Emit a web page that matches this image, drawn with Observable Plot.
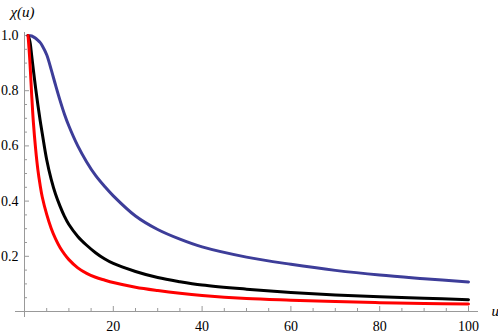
<!DOCTYPE html>
<html>
<head>
<meta charset="utf-8">
<script src="https://cdn.jsdelivr.net/npm/d3@7"></script>
<script src="https://cdn.jsdelivr.net/npm/@observablehq/plot@0.6"></script>
<style>
  html, body { margin: 0; padding: 0; background: #fff; }
  #chart { font-family: "Liberation Serif", serif; }
  #chart svg text { font-family: "Liberation Serif", serif !important; font-variant: normal !important; }
</style>
</head>
<body>
<div id="chart"></div>
<div id="after"></div>
<script>
// u values (shared grid)
const u = [0.8, 1.2, 1.6, 2, 2.5, 3, 3.5, 4, 5, 6, 7, 8, 9, 10, 12, 14, 16, 18, 20, 25, 30, 35, 40, 50, 60, 70, 80, 90, 100];
// chi(u) series
const chiBlue  = [1.0, 0.999, 0.998, 0.995, 0.99, 0.983, 0.975, 0.963, 0.93, 0.877, 0.82, 0.765, 0.715, 0.672, 0.60, 0.542, 0.493, 0.454, 0.419, 0.346, 0.297, 0.262, 0.234, 0.197, 0.171, 0.149, 0.132, 0.119, 0.107];
const chiBlack = [1.0, 0.98, 0.93, 0.875, 0.81, 0.75, 0.695, 0.645, 0.55, 0.48, 0.425, 0.382, 0.345, 0.315, 0.272, 0.24, 0.213, 0.191, 0.174, 0.145, 0.123, 0.108, 0.096, 0.081, 0.069, 0.06, 0.053, 0.048, 0.043];
const chiRed   = [1.0, 0.91, 0.79, 0.685, 0.59, 0.515, 0.46, 0.415, 0.352, 0.302, 0.263, 0.232, 0.208, 0.188, 0.158, 0.138, 0.124, 0.114, 0.105, 0.088, 0.076, 0.066, 0.058, 0.047, 0.041, 0.036, 0.032, 0.029, 0.027];

// tick values / labels
const xTicks = [20, 40, 60, 80, 100];
const xMinor = [5, 10, 15, 25, 30, 35, 45, 50, 55, 65, 70, 75, 85, 90, 95];
const yTicks = [0.2, 0.4, 0.6, 0.8, 1.0];
const yMinor = [0.05, 0.1, 0.15, 0.25, 0.3, 0.35, 0.45, 0.5, 0.55, 0.65, 0.7, 0.75, 0.85, 0.9, 0.95];
const yLabel = "χ(u)";
const xLabel = "u";

const colors = {blue: "#3d3d99", black: "#000000", red: "#ff0000"};
const toRows = (vals) => u.map((x, i) => ({u: x, chi: vals[i]}));
const blueRows = toRows(chiBlue);
const blackRows = toRows(chiBlack);
const redRows = toRows(chiRed);

const axisGray = "#999999";
const serif = "Liberation Serif";

const chart = Plot.plot({
  width: 498,
  height: 334,
  marginLeft: 24,
  marginRight: 30,
  marginTop: 35,
  marginBottom: 23,
  style: "font-family: 'Liberation Serif', serif; font-size: 14px; background: #fff; color: #000;",
  x: {domain: [0, 100]},
  y: {domain: [0, 1]},
  marks: [
    // axis lines
    Plot.ruleY([0], {stroke: axisGray, insetLeft: -9, insetRight: -10}),
    Plot.ruleX([0], {stroke: axisGray, insetTop: -3, insetBottom: -6}),
    // x ticks (pointing inward)
    Plot.axisX(xMinor, {tickSize: -3, stroke: axisGray, fill: "none", label: null}),
    Plot.axisX(xTicks, {tickSize: -5, stroke: axisGray, fill: "none", label: null}),
    Plot.axisX(xTicks, {tickSize: 0, tickPadding: 10, fill: "#000", label: null, fontFamily: serif, fontSize: 14, fontVariant: "normal", tickFormat: d3.format("d")}),
    // y ticks
    Plot.axisY(yMinor, {tickSize: -3, stroke: axisGray, fill: "none", label: null}),
    Plot.axisY(yTicks, {tickSize: -5, stroke: axisGray, fill: "none", label: null}),
    Plot.axisY(yTicks, {tickSize: 0, tickPadding: 6, fill: "#000", label: null, fontFamily: serif, fontSize: 14, fontVariant: "normal", tickFormat: d3.format(".1f")}),
    // curves
    Plot.line(blueRows, {x: "u", y: "chi", stroke: colors.blue, strokeWidth: 3, curve: "catmull-rom"}),
    Plot.line(blackRows, {x: "u", y: "chi", stroke: colors.black, strokeWidth: 3, curve: "catmull-rom"}),
    Plot.line(redRows, {x: "u", y: "chi", stroke: colors.red, strokeWidth: 3, curve: "catmull-rom"}),
    // axis labels
    Plot.text([yLabel], {text: d => d, frameAnchor: "top-left", dx: -14, dy: -23, textAnchor: "start", lineAnchor: "middle", fontStyle: "italic", fontFamily: serif, fontSize: 15, fill: "#000"}),
    Plot.text([xLabel], {text: d => d, frameAnchor: "bottom-right", dx: 23, dy: 0, textAnchor: "start", lineAnchor: "middle", fontStyle: "italic", fontFamily: serif, fontSize: 15, fill: "#000"})
  ]
});

// make sure every text uses the serif face (no tabular-nums override)
const svg = d3.select(chart);
svg.attr("font-family", serif);
svg.selectAll("[font-variant]").attr("font-variant", null);
svg.selectAll("text").attr("font-family", serif);

document.getElementById("chart").appendChild(chart);
</script>
</body>
</html>
